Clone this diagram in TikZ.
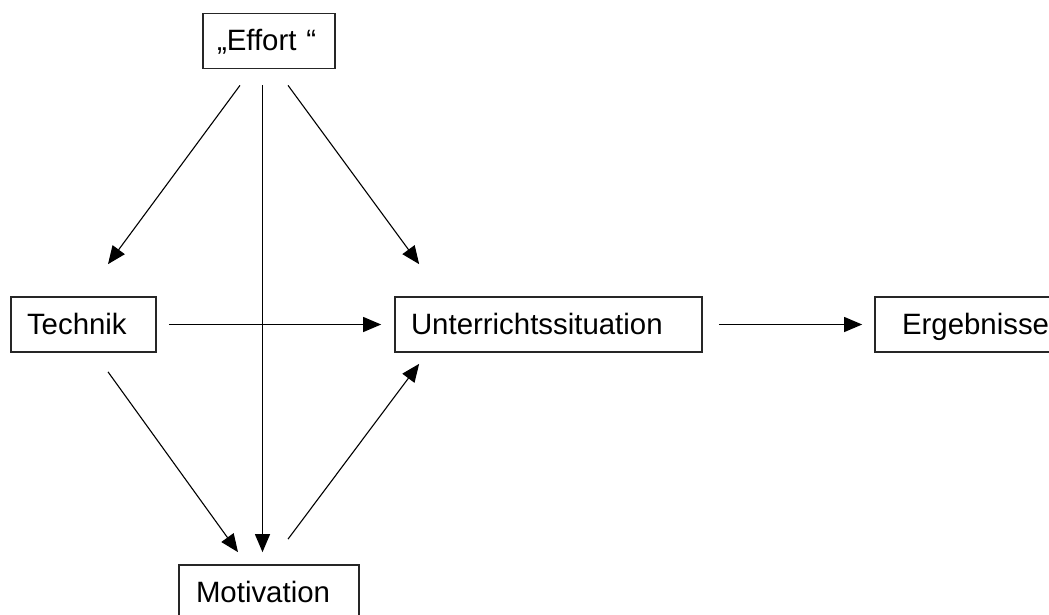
\documentclass[tikz,border=0pt]{standalone}
\usepackage{fontspec}
\setmainfont{Liberation Sans}
\usetikzlibrary{arrows.meta,calc}

\begin{document}
\begin{tikzpicture}[
    x=0.5pt, y=-0.5pt,
    font=\fontsize{14.7}{17}\selectfont,
    box/.style={draw=black!85, line width=0.85pt, rectangle, align=left,
        text width=#1, minimum height=27.5pt, inner xsep=8pt,
        text height=0.95em, text depth=0pt},
    arr/.style={-{Triangle[length=9pt, width=7.5pt]}, line width=0.55pt},
]

% Canvas (boxes at the right and bottom run off the page)
\useasboundingbox (0,0) rectangle (1049,615);
\clip (0,0) rectangle (1049,615);

% Boxes
\node[box=52pt, inner xsep=7pt] (effort) at (269,41) {„Effort “};
\node[box=56.5pt] (technik) at (83.5,324.5) {Technik};
\node[box=137.5pt] (unterricht) at (548.5,324.5) {Unterrichtssituation};
\node[box=75.5pt, inner xsep=13.5pt] (ergebnisse) at (977.5,324.5) {Ergebnisse};
\node[box=73pt, inner xsep=8.5pt] (motivation) at (269,592.5) {Motivation};

% From Effort
\draw[arr] ($(effort.south)+(-29,16)$) -- ($(technik.north)+(24.5,-32)$);
\draw[arr] ($(effort.south)+(-6.5,16)$) -- ($(motivation.north)+(-6.5,-12)$);
\draw[arr] ($(effort.south)+(19,16)$) -- ($(unterricht.north west)+(25,-32)$);

% From Technik
\draw[arr] ($(technik.east)+(12,0)$) -- ($(unterricht.west)+(-13,0)$);
\draw[arr] ($(technik.south)+(24.5,19)$) -- ($(motivation.north)+(-31,-12)$);

% Motivation back up, and on to the results
\draw[arr] ($(motivation.north)+(19,-25)$) -- ($(unterricht.south west)+(25,11)$);
\draw[arr] ($(unterricht.east)+(16,0)$) -- ($(ergebnisse.west)+(-12,0)$);

\end{tikzpicture}
\end{document}
